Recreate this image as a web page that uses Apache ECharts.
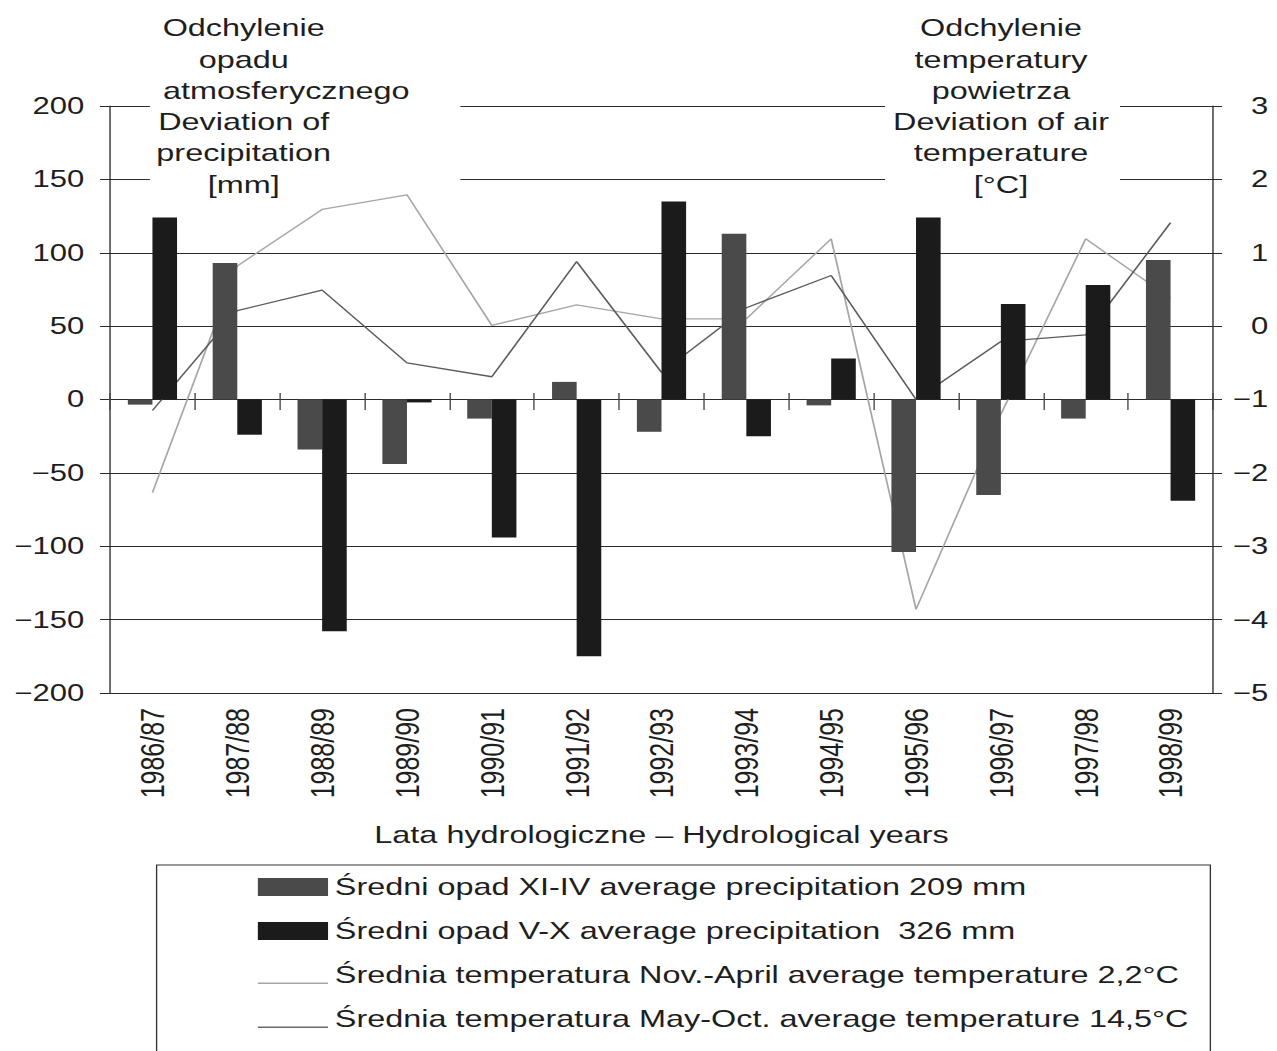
<!DOCTYPE html>
<html>
<head>
<meta charset="utf-8">
<script src="https://cdn.jsdelivr.net/npm/echarts@6/dist/echarts.min.js"></script>
<style>
  html, body { margin: 0; padding: 0; background: #fff; overflow: hidden; }
  /* the figure is set in a narrow frame and widened horizontally */
  #chart { width: 946px; height: 1051px; transform: scaleX(1.35); transform-origin: 0 0; }
</style>
</head>
<body>
<div id="chart"></div>
<script>
// Hydrological years
const years = ['1986/87', '1987/88', '1988/89', '1989/90', '1990/91', '1991/92', '1992/93',
               '1993/94', '1994/95', '1995/96', '1996/97', '1997/98', '1998/99'];

// Precipitation deviation [mm]
const precipWinter = [-3.5, 93, -34, -44, -13, 12, -22, 113, -4, -104, -65, -13, 95];   // XI-IV
const precipSummer = [124, -24, -158, -2, -94, -175, 135, -25, 28, 124, 65, 78, -69];   // V-X

// Air temperature deviation [°C]
const tempWinter = [-2.27, 0.82, 1.59, 1.79, 0.01, 0.29, 0.10, 0.10, 1.19, -3.86, -1.20, 1.19, 0.38]; // Nov-April
const tempSummer = [-1.15, 0.21, 0.49, -0.50, -0.69, 0.88, -0.63, 0.25, 0.69, -1.00, -0.21, -0.12, 1.41]; // May-Oct

// Axis ticks
const precipTicks = [-200, -150, -100, -50, 0, 50, 100, 150, 200];
const tempTicks = [-5, -4, -3, -2, -1, 0, 1, 2, 3];

// Series names (legend)
const nameWinterP = 'Średni opad XI-IV average precipitation 209 mm';
const nameSummerP = 'Średni opad V-X average precipitation  326 mm';
const nameWinterT = 'Średnia temperatura Nov.-April average temperature 2,2°C';
const nameSummerT = 'Średnia temperatura May-Oct. average temperature 14,5°C';

// Axis headings
const leftHeading = ['Odchylenie', 'opadu', 'atmosferycznego', 'Deviation of', 'precipitation', '[mm]'];
const rightHeading = ['Odchylenie', 'temperatury', 'powietrza', 'Deviation of air', 'temperature', '[°C]'];
const xAxisTitle = 'Lata hydrologiczne – Hydrological years';

const FONT = '"Liberation Sans", Arial, Helvetica, sans-serif';
const INK = '#1e1e1e';
const RULE = '#2b2b2b';

const minus = v => String(v).replace('-', '\u2212');

// thin line sample sitting low in the legend box
const lineIcon = 'path://M0,0L0.05,0L0.05,0.05Z M0,16.6L52,16.6L52,18L0,18Z';

// heading blocks: white panel interrupting the top grid rules, plus centred lines
const headingY = [28, 60, 91, 122, 153, 185];
function headingBlock(lines, cx, panelX, panelW, leftAlignIdx, leftX) {
  const els = [{
    type: 'rect', z: 50,
    shape: { x: panelX, y: 95, width: panelW, height: 96 },
    style: { fill: '#fff' }
  }];
  lines.forEach((t, i) => {
    const leftAligned = i === leftAlignIdx;
    els.push({
      type: 'text', z: 51,
      x: leftAligned ? leftX : cx, y: headingY[i],
      style: {
        text: t, fill: INK, font: '24px ' + FONT,
        align: leftAligned ? 'left' : 'center', verticalAlign: 'middle'
      }
    });
  });
  return els;
}

const chart = echarts.init(document.getElementById('chart'), null, { renderer: 'svg' });

chart.setOption({
  backgroundColor: '#fff',
  animation: false,
  grid: { left: 81.5, right: 47.5, top: 106, bottom: 358, containLabel: false },
  legend: {
    orient: 'vertical',
    left: 116, top: 865,
    width: 760, height: 240,
    padding: [10, 16, 60, 75],
    itemWidth: 52, itemHeight: 18, itemGap: 20,
    borderColor: '#333', borderWidth: 1,
    selectedMode: false,
    textStyle: { fontSize: 24, color: INK, fontFamily: FONT, lineHeight: 24 },
    data: [
      { name: nameWinterP, icon: 'rect' },
      { name: nameSummerP, icon: 'rect' },
      { name: nameWinterT, icon: lineIcon },
      { name: nameSummerT, icon: lineIcon }
    ]
  },
  xAxis: [
    {
      type: 'category', data: years, position: 'bottom',
      axisLine: { show: true, onZero: false, lineStyle: { color: RULE, width: 1 } },
      axisTick: { show: false },
      axisLabel: { rotate: 90, margin: 15, fontSize: 25, color: INK, fontFamily: FONT },
      name: xAxisTitle, nameLocation: 'middle', nameGap: 130,
      nameTextStyle: { fontSize: 24, color: INK, fontFamily: FONT },
      splitLine: { show: false }
    },
    {
      // category boundary ticks crossing the zero rule
      type: 'category', data: years, position: 'top', offset: -287,
      axisLine: { show: false, onZero: false },
      axisTick: { show: true, inside: true, length: 17, lineStyle: { color: '#444', width: 1 } },
      axisLabel: { show: false },
      splitLine: { show: false }
    }
  ],
  yAxis: [
    {
      type: 'value', position: 'left',
      min: precipTicks[0], max: precipTicks[precipTicks.length - 1],
      interval: precipTicks[1] - precipTicks[0],
      axisLine: { show: true, lineStyle: { color: RULE, width: 1 } },
      axisTick: { show: true, length: 7.4, lineStyle: { color: RULE, width: 1 } },
      axisLabel: { fontSize: 23, color: INK, fontFamily: FONT, margin: 19,
                   padding: [0, 0, 8, 0], formatter: minus },
      splitLine: { show: true, lineStyle: { color: RULE, width: 1 } }
    },
    {
      type: 'value', position: 'right',
      min: tempTicks[0], max: tempTicks[tempTicks.length - 1],
      interval: tempTicks[1] - tempTicks[0],
      axisLine: { show: true, lineStyle: { color: RULE, width: 1 } },
      axisTick: { show: true, length: 6.7, lineStyle: { color: RULE, width: 1 } },
      axisLabel: { fontSize: 23, color: INK, fontFamily: FONT, margin: 41, align: 'right',
                   padding: [0, 0, 8, 0], formatter: minus },
      splitLine: { show: false }
    }
  ],
  series: [
    {
      name: nameWinterP, type: 'bar', data: precipWinter, z: 3,
      barWidth: '29%', barGap: '0%',
      itemStyle: { color: '#4a4a4a' }
    },
    {
      name: nameSummerP, type: 'bar', data: precipSummer, z: 3,
      barWidth: '29%', barGap: '0%',
      itemStyle: { color: '#1b1b1b' }
    },
    {
      name: nameWinterT, type: 'line', yAxisIndex: 1, data: tempWinter, z: 2,
      symbol: 'none', clip: false,
      lineStyle: { color: '#a6a6a6', width: 1.3 },
      itemStyle: { color: '#a6a6a6' }
    },
    {
      name: nameSummerT, type: 'line', yAxisIndex: 1, data: tempSummer, z: 2,
      symbol: 'none', clip: false,
      lineStyle: { color: '#5c5c5c', width: 1.3 },
      itemStyle: { color: '#6a6a6a' }
    }
  ],
  graphic: [
    ...headingBlock(leftHeading, 180.5, 111, 230, 2, 120.7),
    ...headingBlock(rightHeading, 741.5, 655.6, 174, -1, 0)
  ]
});
</script>
</body>
</html>
